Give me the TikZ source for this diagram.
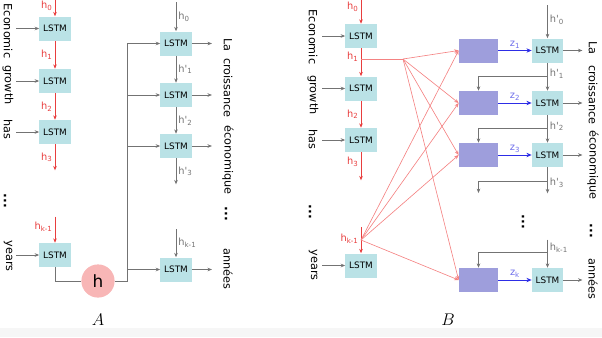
\documentclass[tikz,border=0pt]{standalone}
\usepackage{fontspec}
\setmainfont{DejaVu Sans}
\usetikzlibrary{arrows.meta,positioning,calc}
\definecolor{lstmc}{RGB}{186,226,230}
\definecolor{attc}{RGB}{158,158,220}
\definecolor{hred}{RGB}{232,62,62}
\definecolor{lred}{RGB}{244,130,130}
\definecolor{zblue}{RGB}{45,45,230}
\definecolor{zlbl}{RGB}{110,110,235}
\definecolor{lgray}{RGB}{115,115,115}
\definecolor{circc}{RGB}{248,182,182}

\begin{document}
\begin{tikzpicture}[x=0.025cm,y=-0.025cm,
 lstm/.style={fill=lstmc,minimum width=0.78cm,minimum height=0.6cm,inner sep=0pt,font=\fontsize{6.3}{7}\selectfont},
 att/.style={fill=attc,minimum width=0.98cm,minimum height=0.6cm,inner sep=0pt},
 lbl/.style={font=\fontsize{7}{8}\selectfont,inner sep=1.5pt},
 rlbl/.style={lbl,text=hred},
 wrd/.style={rotate=-90,font=\fontsize{8}{9}\selectfont,inner sep=0pt},
 dts/.style={rotate=-90,font=\bfseries\fontsize{9}{9}\selectfont,inner sep=0pt},
 arr/.style={-{Stealth[length=1.1mm,width=0.9mm]},lgray,line width=0.45pt},
 gline/.style={lgray,line width=0.45pt},
 rarr/.style={-{Stealth[length=1.1mm,width=0.9mm]},hred,line width=0.5pt},
 farr/.style={-{Stealth[length=1.1mm,width=0.9mm]},lred,line width=0.45pt},
 barr/.style={-{Stealth[length=1.3mm,width=1.1mm]},zblue,line width=0.5pt}]
\useasboundingbox (0,0) rectangle (602,337);
\fill[gray!7] (0,328) rectangle (602,337);
% A: encoder
\node[lstm] (ea1) at (55,28.5) {LSTM};
\node[lstm] (ea2) at (55,81) {LSTM};
\node[lstm] (ea3) at (55,132) {LSTM};
\node[lstm] (ea4) at (55,255) {LSTM};
\node[wrd] (wa1) at (8,31) {Economic};
\node[wrd] (wa2) at (8,85) {growth};
\node[wrd] (wa3) at (8,129) {has};
\node[dts] (dta) at (5,201) {...};
\node[wrd] (wa4) at (8,256) {years};
\draw[arr] (ea1.west) ++(-23,0) -- (ea1.west);
\draw[arr] (ea2.west) ++(-23,0) -- (ea2.west);
\draw[arr] (ea3.west) ++(-23,0) -- (ea3.west);
\draw[arr] (ea4.west) ++(-23,0) -- (ea4.west);
\draw[rarr] (ea1.north) ++(0,-18) -- node[rlbl,left,pos=0.4]{h\textsubscript{0}} (ea1.north);
\draw[rarr] (ea1) -- node[rlbl,left]{h\textsubscript{1}} (ea2);
\draw[rarr] (ea2) -- node[rlbl,left]{h\textsubscript{2}} (ea3);
\draw[rarr] (ea3.south) -- node[rlbl,left]{h\textsubscript{3}} ++(0,26);
\draw[rarr] (ea4.north) ++(0,-26) -- node[rlbl,left,pos=0.4]{h\textsubscript{k-1}} (ea4.north);
\node[circle,fill=circc,minimum size=0.83cm,inner sep=0pt,font=\fontsize{12}{14}\selectfont] (hc) at (98,281) {h};
\coordinate (ja) at (127,281);
\draw[gline] (ea4.south) |- (hc.west);
\draw[gline] (hc.east) -- (ja) -- (ja |- 0,43.5);
% A: decoder
\node[lstm] (da1) at (176,43.5) {LSTM};
\node[lstm] (da2) at (176,95) {LSTM};
\node[lstm] (da3) at (176,146) {LSTM};
\node[lstm] (da4) at (176,269.5) {LSTM};
\draw[arr] (ja |- da1) -- (da1);
\draw[arr] (ja |- da2) -- (da2);
\draw[arr] (ja |- da3) -- (da3);
\draw[arr] (ja |- da4) -- (da4);
\draw[arr] (da1.north) ++(0,-29) -- node[lbl,right]{h\textsubscript{0}} (da1.north);
\draw[arr] (da1) -- node[lbl,right]{h\textquotesingle\textsubscript{1}} (da2);
\draw[arr] (da2) -- node[lbl,right]{h\textquotesingle\textsubscript{2}} (da3);
\draw[arr] (da3.south) -- node[lbl,right]{h\textquotesingle\textsubscript{3}} ++(0,26);
\draw[arr] (da4.north) ++(0,-28) -- node[lbl,right]{h\textsubscript{k-1}} (da4.north);
\draw[arr] (da1.east) -- ++(20,0);
\draw[arr] (da2.east) -- ++(20,0);
\draw[arr] (da3.east) -- ++(20,0);
\draw[arr] (da4.east) -- ++(20,0);
\node[wrd] (oa1) at (228,45) {La};
\node[wrd] (oa2) at (228,88) {croissance};
\node[wrd] (oa3) at (228,160) {économique};
\node[dts] (dto) at (226,214) {...};
\node[wrd] (oa4) at (228,269) {années};
\node[font=\fontsize{13}{15}\selectfont] (la) at (98,320) {$A$};
% B: encoder
\node[lstm] (eb1) at (361,36) {LSTM};
\node[lstm] (eb2) at (361,88.5) {LSTM};
\node[lstm] (eb3) at (361,140) {LSTM};
\node[lstm] (eb4) at (361,265.5) {LSTM};
\node[wrd] (wb1) at (313,37) {Economic};
\node[wrd] (wb2) at (313,95) {growth};
\node[wrd] (wb3) at (313,139) {has};
\node[dts] (dtb) at (310,212) {...};
\node[wrd] (wb4) at (313,265) {years};
\draw[arr] (eb1.west) ++(-23,0) -- (eb1.west);
\draw[arr] (eb2.west) ++(-23,0) -- (eb2.west);
\draw[arr] (eb3.west) ++(-23,0) -- (eb3.west);
\draw[arr] (eb4.west) ++(-23,0) -- (eb4.west);
\draw[rarr] (eb1.north) ++(0,-26) -- node[rlbl,left,pos=0.35]{h\textsubscript{0}} (eb1.north);
\draw[rarr] (eb1) -- node[rlbl,left,pos=0.3]{h\textsubscript{1}} (eb2);
\draw[rarr] (eb2) -- node[rlbl,left]{h\textsubscript{2}} (eb3);
\draw[rarr] (eb3.south) -- node[rlbl,left,pos=0.35]{h\textsubscript{3}} ++(0,28);
\draw[rarr] (eb4.north) ++(0,-26) -- node[rlbl,left,pos=0.45]{h\textsubscript{k-1}} (eb4.north);
% B: attention
\node[att] (pb1) at (478.5,50.5) {};
\node[att] (pb2) at (478.5,103) {};
\node[att] (pb3) at (478.5,155) {};
\node[att] (pb4) at (478.5,280) {};
\coordinate (h1b) at (361,59);
\coordinate (fb) at (403,59);
\coordinate (hkb) at (361,240);
\draw[lred,line width=0.45pt] (h1b) -- (fb);
\draw[farr] (fb) -- (pb1.west);
\draw[farr] (fb) -- (pb2.west);
\draw[farr] (fb) -- (pb3.west);
\draw[farr] (fb) -- (pb4.west);
\draw[farr] (hkb) -- (pb1.west);
\draw[farr] (hkb) -- (pb2.west);
\draw[farr] (hkb) -- (pb3.west);
\draw[farr] (hkb) -- (pb4.west);
% B: decoder
\node[lstm] (db1) at (547.5,50.5) {LSTM};
\node[lstm] (db2) at (547.5,103) {LSTM};
\node[lstm] (db3) at (547.5,155) {LSTM};
\node[lstm] (db4) at (547.5,280) {LSTM};
\draw[barr] (pb1) -- node[lbl,above,text=zlbl]{z\textsubscript{1}} (db1);
\draw[barr] (pb2) -- node[lbl,above,text=zlbl]{z\textsubscript{2}} (db2);
\draw[barr] (pb3) -- node[lbl,above,text=zlbl]{z\textsubscript{3}} (db3);
\draw[barr] (pb4) -- node[lbl,above,text=zlbl]{z\textsubscript{k}} (db4);
\draw[arr] (db1.north) ++(0,-33) -- node[lbl,right,pos=0.45]{h\textquotesingle\textsubscript{0}} (db1.north);
\draw[arr] (db1) -- node[lbl,right,pos=0.4]{h\textquotesingle\textsubscript{1}} (db2);
\draw[arr] (db2) -- node[lbl,right,pos=0.4]{h\textquotesingle\textsubscript{2}} (db3);
\draw[arr] (db3.south) -- node[lbl,right,pos=0.6]{h\textquotesingle\textsubscript{3}} ++(0,26);
\draw[arr] (db4.north) ++(0,-28) -- node[lbl,right,pos=0.3]{h\textsubscript{k-1}} (db4.north);
\coordinate (bb2) at (547.5,76);
\coordinate (bb3) at (547.5,128);
\coordinate (bb4) at (547.5,181);
\coordinate (ob4) at (478.5,193);
\coordinate (bbk) at (547.5,252);
\draw[arr] (bb2) -| (pb2);
\draw[arr] (bb3) -| (pb3);
\draw[arr] (bb4) -| (ob4);
\draw[arr] (bbk) -| (pb4);
\node[dts] (dtd) at (523,222) {...};
\draw[arr] (db1.east) -- ++(19,0);
\draw[arr] (db2.east) -- ++(19,0);
\draw[arr] (db3.east) -- ++(19,0);
\draw[arr] (db4.east) -- ++(19,0);
\node[wrd] (ob1) at (593,48) {La};
\node[wrd] (ob2) at (593,95) {croissance};
\node[wrd] (ob3) at (593,165) {économique};
\node[dts] (dtp) at (591,231) {...};
\node[wrd] (ob5) at (593,279) {années};
\node[font=\fontsize{13}{15}\selectfont] (lb) at (448,320) {$B$};
\end{tikzpicture}
\end{document}
